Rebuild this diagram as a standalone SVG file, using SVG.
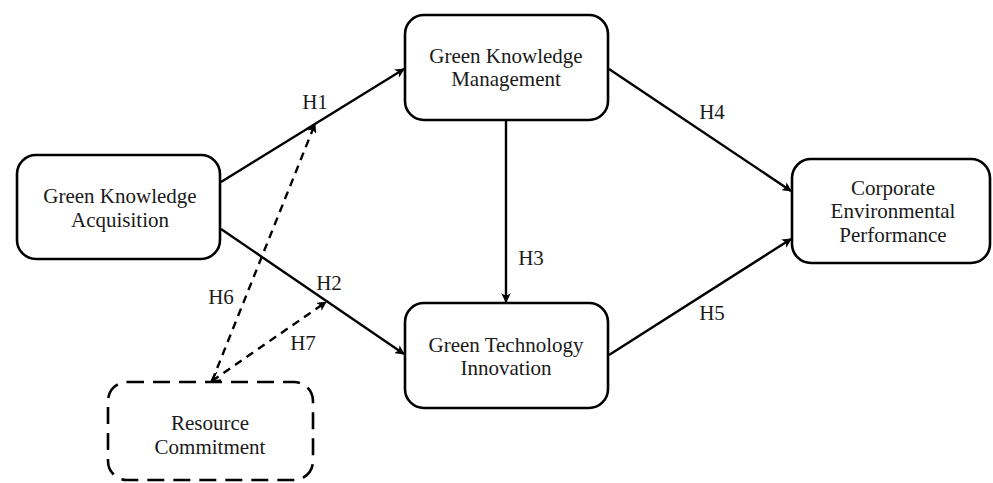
<svg xmlns="http://www.w3.org/2000/svg" width="993" height="483" viewBox="0 0 993 483">
  <style>
    .box { fill: #ffffff; stroke: #000000; stroke-width: 2.6; }
    .dashed-box { fill: #ffffff; stroke: #000000; stroke-width: 2.6; stroke-dasharray: 17 9; }
    .lbl { font-family: "Liberation Serif", "Times New Roman", serif; font-size: 21px; fill: #1a1a1a; text-anchor: middle; }
    .edge { stroke: #000000; stroke-width: 2.4; fill: none; marker-end: url(#arrow); }
    .edge-dash { stroke: #000000; stroke-width: 2.4; fill: none; stroke-dasharray: 8 6; marker-end: url(#arrow); }
  </style>
  <defs>
    <marker id="arrow" viewBox="0 0 10 10" refX="9" refY="5" markerWidth="4" markerHeight="4" orient="auto" markerUnits="strokeWidth">
      <path d="M0,0 L10,5 L0,10 L2.5,5 Z" fill="#000000"/>
    </marker>
    <marker id="arrow-start" viewBox="0 0 10 10" refX="1" refY="5" markerWidth="4" markerHeight="4" orient="auto" markerUnits="strokeWidth">
      <path d="M10,0 L0,5 L10,10" fill="none" stroke="#000000" stroke-width="2"/>
    </marker>
  </defs>

  <rect width="993" height="483" fill="#ffffff"/>

  <!-- connectors -->
  <g id="connectors">
    <line class="edge" x1="221" y1="182" x2="404" y2="69"/>
    <line class="edge" x1="221" y1="229" x2="404" y2="354"/>
    <line class="edge" x1="506" y1="121" x2="506" y2="302"/>
    <line class="edge" x1="609" y1="69" x2="791" y2="191"/>
    <line class="edge" x1="609" y1="355" x2="791" y2="239"/>
    <line class="edge-dash" x1="212" y1="381" x2="315" y2="124"/>
    <line class="edge-dash" x1="212" y1="381" x2="326" y2="302" marker-start="url(#arrow-start)"/>
    <text class="lbl" x="315" y="109">H1</text>
    <text class="lbl" x="329" y="290">H2</text>
    <text class="lbl" x="531" y="265">H3</text>
    <text class="lbl" x="712" y="119">H4</text>
    <text class="lbl" x="712" y="320">H5</text>
    <text class="lbl" x="221" y="304">H6</text>
    <text class="lbl" x="303" y="350">H7</text>
  </g>

  <!-- nodes -->
  <g id="gk-acquisition">
    <rect class="box" x="17" y="155" width="203" height="104" rx="19"/>
    <text class="lbl" x="120" y="203">Green Knowledge</text>
    <text class="lbl" x="120" y="227">Acquisition</text>
  </g>
  <g id="gk-management">
    <rect class="box" x="405" y="15" width="203" height="105" rx="19"/>
    <text class="lbl" x="506" y="63">Green Knowledge</text>
    <text class="lbl" x="506" y="86">Management</text>
  </g>
  <g id="gt-innovation">
    <rect class="box" x="405" y="303" width="203" height="105" rx="19"/>
    <text class="lbl" x="506" y="352">Green Technology</text>
    <text class="lbl" x="506" y="375">Innovation</text>
  </g>
  <g id="corp-env-performance">
    <rect class="box" x="792" y="159" width="198" height="104" rx="19"/>
    <text class="lbl" x="893" y="195">Corporate</text>
    <text class="lbl" x="893" y="218">Environmental</text>
    <text class="lbl" x="893" y="242">Performance</text>
  </g>
  <g id="resource-commitment">
    <rect class="dashed-box" x="108" y="382" width="205" height="98" rx="19"/>
    <text class="lbl" x="210" y="430">Resource</text>
    <text class="lbl" x="210" y="454">Commitment</text>
  </g>
</svg>
